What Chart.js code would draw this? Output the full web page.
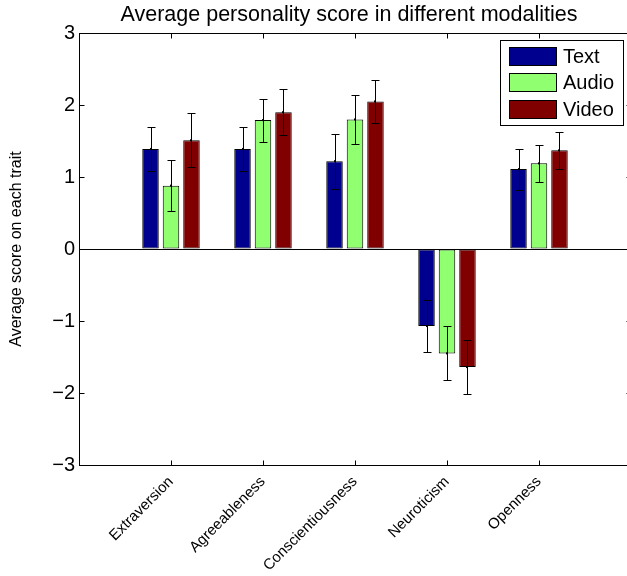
<!DOCTYPE html>
<html><head><meta charset="utf-8">
<script src="https://cdn.jsdelivr.net/npm/chart.js@4"></script>
<style>html,body{margin:0;padding:0;background:#fff;overflow:hidden}#wrap{width:640px;height:576px;position:relative}</style>
</head><body><div id="wrap"><canvas id="c" width="640" height="576"></canvas></div>
<script>
const chartTitle = 'Average personality score in different modalities';
const yAxisTitle = 'Average score on each trait';
const categories = ['Extraversion','Agreeableness','Conscientiousness','Neuroticism','Openness'];
const seriesNames = ['Text','Audio','Video'];
const seriesColors = ['#00008F','#90FF70','#800000'];
const textMeans = [1.39, 1.39, 1.22, -1.07, 1.11];
const textErrors = [0.30, 0.31, 0.38, 0.36, 0.285];
const audioMeans = [0.88, 1.79, 1.80, -1.45, 1.19];
const audioErrors = [0.35, 0.30, 0.335, 0.375, 0.26];
const videoMeans = [1.51, 1.90, 2.05, -1.64, 1.37];
const videoErrors = [0.375, 0.32, 0.295, 0.377, 0.26];
const yTicks = [-3, -2, -1, 0, 1, 2, 3];

const FONT = "'Liberation Sans', Arial, Helvetica, sans-serif";
const pad = a => [null, ...a, null];
const labels = ['', ...categories, ''];
const means = [textMeans, audioMeans, videoMeans];
const errs = [textErrors, audioErrors, videoErrors];

const datasets = seriesNames.map((n, i) => ({
  label: n,
  data: pad(means[i]),
  errors: pad(errs[i]),
  backgroundColor: seriesColors[i],
  borderColor: '#000',
  borderWidth: 1,
  borderSkipped: false,
  categoryPercentage: 0.668,
  barPercentage: 0.805
}));

const decor = {
  id: 'decor',
  afterDatasetsDraw(chart) {
    const ctx = chart.ctx, ys = chart.scales.y;
    ctx.save();
    ctx.strokeStyle = '#000'; ctx.fillStyle = '#000'; ctx.lineWidth = 1;
    chart.data.datasets.forEach((ds, i) => {
      const meta = chart.getDatasetMeta(i);
      meta.data.forEach((el, j) => {
        const v = ds.data[j], e = ds.errors[j];
        if (v == null) return;
        const x = Math.round(el.x) + 0.5;
        const y1 = Math.round(ys.getPixelForValue(v + e)) + 0.5;
        const y2 = Math.round(ys.getPixelForValue(v - e)) + 0.5;
        ctx.beginPath();
        ctx.moveTo(x, y1); ctx.lineTo(x, y2);
        ctx.moveTo(x - 4, y1); ctx.lineTo(x + 4, y1);
        ctx.moveTo(x - 4, y2); ctx.lineTo(x + 4, y2);
        ctx.stroke();
        const yv = ys.getPixelForValue(v);
        ctx.fillRect(x - 1.5, yv - 1, 2, 2);
      });
    });
    ctx.restore();
  },
  afterDraw(chart) {
    const ctx = chart.ctx, a = chart.chartArea, xs = chart.scales.x, ys = chart.scales.y;
    ctx.save();
    ctx.strokeStyle = '#000'; ctx.lineWidth = 1;
    const L = Math.round(a.left) + 0.5, R = Math.round(a.right) + 0.5, T = Math.round(a.top) + 0.5, B = Math.round(a.bottom) + 0.5;
    ctx.strokeRect(L, T, R - L, B - T);
    ctx.beginPath();
    ys.ticks.forEach((t, i) => {
      const y = Math.round(ys.getPixelForTick(i)) + 0.5;
      ctx.moveTo(L, y); ctx.lineTo(L + 5, y);
      ctx.moveTo(R, y); ctx.lineTo(R - 5, y);
    });
    xs.ticks.forEach((t, i) => {
      if (!labels[i]) return;
      const x = Math.round(xs.getPixelForTick(i)) + 0.5;
      ctx.moveTo(x, B); ctx.lineTo(x, B - 5);
      ctx.moveTo(x, T); ctx.lineTo(x, T + 5);
    });
    ctx.stroke();
    // title
    ctx.fillStyle = '#000';
    ctx.font = '21.5px ' + FONT;
    ctx.textAlign = 'center'; ctx.textBaseline = 'middle';
    ctx.fillText(chartTitle, 349, 15);
    // legend
    const bx = 500.5, by = 40.5, bw = 123, bh = 85;
    ctx.fillStyle = '#fff';
    ctx.fillRect(bx, by, bw, bh);
    ctx.strokeRect(bx, by, bw, bh);
    chart.data.datasets.forEach((ds, i) => {
      const sy = 47 + i * 26.3;
      ctx.fillStyle = ds.backgroundColor;
      ctx.fillRect(509, Math.round(sy), 48, 19);
      ctx.strokeRect(509.5, Math.round(sy) + 0.5, 47, 18);
      ctx.fillStyle = '#000';
      ctx.textAlign = 'left'; ctx.textBaseline = 'middle';
      ctx.font = '20px ' + FONT;
      ctx.fillText(ds.label, 563, Math.round(sy) + 10);
    });
    ctx.restore();
  }
};

new Chart(document.getElementById('c'), {
  type: 'bar',
  data: { labels, datasets },
  plugins: [decor],
  options: {
    responsive: false,
    animation: false,
    layout: { padding: { top: 33, right: 9, left: 0, bottom: 0 } },
    plugins: { legend: { display: false }, title: { display: false }, tooltip: { enabled: false } },
    scales: {
      x: {
        type: 'category',
        offset: false,
        grid: { display: false, drawTicks: false },
        border: { display: false },
        ticks: { autoSkip: false, maxRotation: 45, minRotation: 45, padding: 8, color: '#000', font: { family: FONT, size: 15 } },
        afterFit(s) { s.height = 111; s.paddingLeft = 0; s.paddingRight = 0; }
      },
      y: {
        min: -3, max: 3,
        afterBuildTicks(s) { s.ticks = yTicks.map(v => ({ value: v })); },
        grid: { drawTicks: false, color: c => (c.tick && c.tick.value === 0) ? '#000' : 'rgba(0,0,0,0)', lineWidth: 1 },
        border: { display: false },
        ticks: { padding: 4, color: '#000', font: { family: FONT, size: 20 }, callback: v => v < 0 ? '\u2212' + Math.abs(v) : String(v) },
        title: { display: true, text: yAxisTitle, color: '#000', font: { family: FONT, size: 16 }, padding: { top: 7, bottom: 0 } },
        afterFit(s) { s.width = 79; s.paddingTop = 0; s.paddingBottom = 0; }
      }
    }
  }
});
</script></body></html>
